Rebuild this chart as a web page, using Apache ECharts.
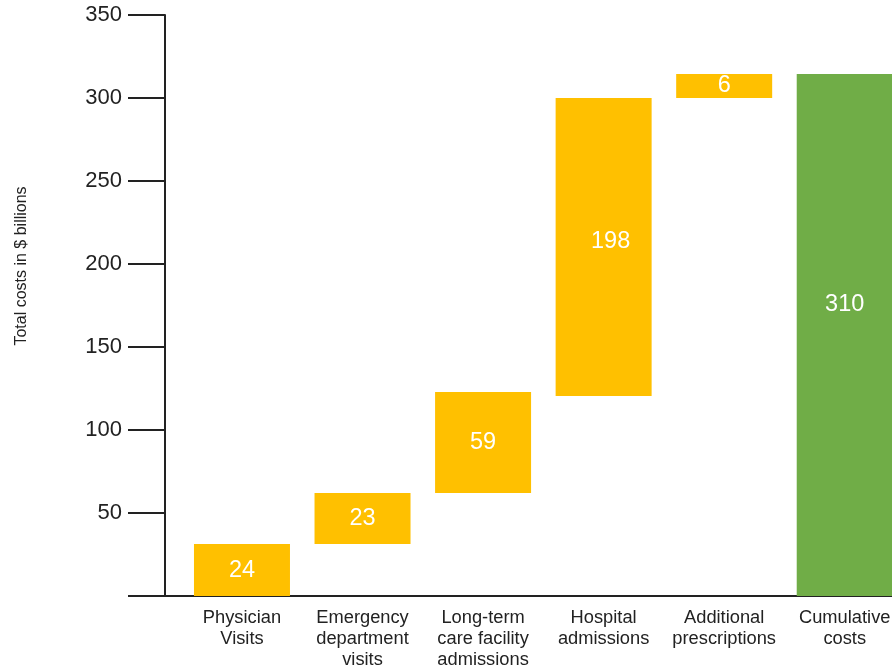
<!DOCTYPE html>
<html>
<head>
<meta charset="utf-8">
<script src="https://cdn.jsdelivr.net/npm/echarts@6/dist/echarts.min.js"></script>
<style>
html,body{margin:0;padding:0;background:#fff;}
#chart{width:892px;height:668px;}
</style>
</head>
<body>
<div id="chart"></div>
<script>
const categories = ['Physician\nVisits', 'Emergency\ndepartment\nvisits', 'Long-term\ncare facility\nadmissions', 'Hospital\nadmissions', 'Additional\nprescriptions', 'Cumulative\ncosts'];
const barBase = [0, 31.3, 62, 120.5, 300, 0];
const barHeight = [31.3, 30.7, 60.9, 179.5, 14.5, 314.5];
const barLabels = ['24', '23', '59', '198', '6', '310'];
const yTicks = [0, 50, 100, 150, 200, 250, 300, 350];
const yTitle = 'Total costs in $ billions';

const FONT = '"Liberation Sans", Arial, sans-serif';
const INK = '#222222';
const YELLOW = '#FFC000';
const GREEN = '#70AD47';

const chart = echarts.init(document.getElementById('chart'));
const labelOffsets = [[0,0],[0,0],[0,0],[7,-5],[0,0],[0,-30]];

const option = {
  animation: false,
  backgroundColor: '#ffffff',
  grid: [
    {left: 165, right: 0, top: 15, bottom: 72, containLabel: false, outerBoundsMode: 'none'},
    {left: 181.7, width: 723.3, top: 15, bottom: 72, containLabel: false, outerBoundsMode: 'none'}
  ],
  xAxis: [
    {type: 'category', gridIndex: 0, data: [''],
     axisLine: {show: true, lineStyle: {color: INK, width: 2}},
     axisTick: {show: false}, axisLabel: {show: false}, splitLine: {show: false}},
    {type: 'category', gridIndex: 1, data: categories,
     axisLine: {show: false}, axisTick: {show: false}, splitLine: {show: false},
     axisLabel: {color: INK, fontFamily: FONT, fontSize: 18.3, lineHeight: 20.8, margin: 12, interval: 0}}
  ],
  yAxis: [
    {type: 'value', gridIndex: 0, min: yTicks[0], max: yTicks[yTicks.length-1], interval: 50,
     axisLine: {show: true, lineStyle: {color: INK, width: 2}},
     axisTick: {show: true, length: 37, lineStyle: {color: INK, width: 2}},
     splitLine: {show: false},
     axisLabel: {color: INK, fontFamily: FONT, fontSize: 22, margin: 43,
       formatter: v => (v === 0 ? '' : String(v))}},
    {type: 'value', gridIndex: 1, min: yTicks[0], max: yTicks[yTicks.length-1], interval: 50,
     show: false}
  ],
  graphic: [{
    type: 'text', x: 22, y: 266, rotation: Math.PI / 2,
    style: {text: yTitle, font: '16px ' + FONT, fill: INK, align: 'center', verticalAlign: 'middle'}
  }],
  series: [
    {type: 'bar', xAxisIndex: 1, yAxisIndex: 1, stack: 'w', barWidth: 96,
     itemStyle: {color: 'transparent'}, emphasis: {disabled: true}, silent: true,
     data: barBase},
    {type: 'bar', xAxisIndex: 1, yAxisIndex: 1, stack: 'w', barWidth: 96,
     data: barHeight.map((h, i) => ({
       value: h,
       itemStyle: {color: i === barHeight.length - 1 ? GREEN : YELLOW},
       label: {offset: labelOffsets[i]}
     })),
     label: {show: true, position: 'inside', color: '#ffffff', fontFamily: FONT, fontSize: 23.5,
       formatter: p => barLabels[p.dataIndex]}}
  ]
};
chart.setOption(option);
</script>
</body>
</html>
